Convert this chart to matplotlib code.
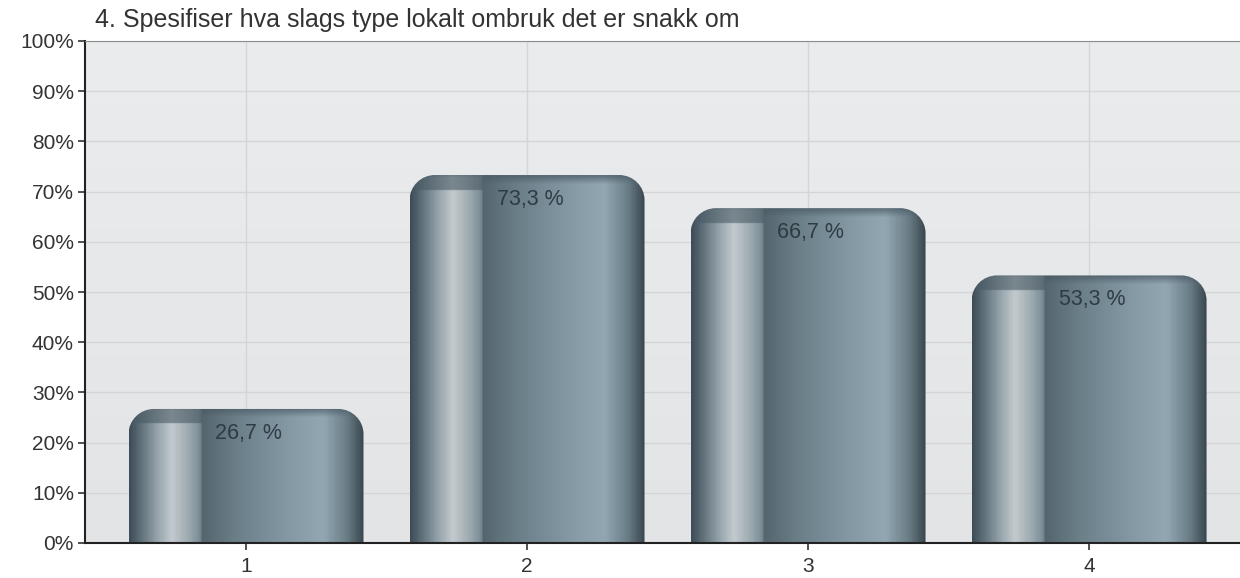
import numpy as np
import matplotlib
matplotlib.use('Agg')
import matplotlib.pyplot as plt
from matplotlib.colors import LinearSegmentedColormap, to_rgb
from matplotlib.path import Path
from matplotlib.patches import PathPatch

plt.rcParams['font.family'] = ['Liberation Sans', 'DejaVu Sans']

# --- Data ---
TITLE = "4. Spesifiser hva slags type lokalt ombruk det er snakk om"
categories = ['1', '2', '3', '4']
values = [26.7, 73.3, 66.7, 53.3]
value_labels = ['26,7 %', '73,3 %', '66,7 %', '53,3 %']
yticks = list(range(0, 101, 10))

BAR_W = 0.836
RX, RY = 0.09, 5.0  # corner radius in data units (x, y)

# horizontal "cylinder" shading of each bar
bar_cmap = LinearSegmentedColormap.from_list('bar', [
    (0.00, '#3e4d57'), (0.04, '#5a6b75'), (0.12, '#97a5ac'),
    (0.18, '#c2cace'), (0.25, '#9eabb1'), (0.30, '#7b8d96'),
    (0.31, '#55656e'), (0.45, '#6a7e88'), (0.70, '#869ba6'),
    (0.83, '#92a7b2'), (0.93, '#6a7d87'), (1.00, '#3a4850')])


def rounded_top_path(x0, x1, top):
    # bar outline with rounded upper corners, square bottom
    k = 0.5523
    verts = [(x0, 0), (x0, top - RY),
             (x0, top - RY + k * RY), (x0 + RX - k * RX, top), (x0 + RX, top),
             (x1 - RX, top),
             (x1 - RX + k * RX, top), (x1, top - RY + k * RY), (x1, top - RY),
             (x1, 0), (x0, 0)]
    codes = [Path.MOVETO, Path.LINETO,
             Path.CURVE4, Path.CURVE4, Path.CURVE4,
             Path.LINETO,
             Path.CURVE4, Path.CURVE4, Path.CURVE4,
             Path.LINETO, Path.CLOSEPOLY]
    return Path(verts, codes)


def bar_image(top):
    nx, ny = 300, int(top * 10) + 1
    fx = np.linspace(0, 1, nx)
    yy = np.linspace(top, 0, ny)
    img = np.ones((ny, nx, 4))
    img[:, :, :3] = bar_cmap(fx)[None, :, :3]
    d = (top - yy)[:, None]  # distance from top in %
    dark = np.array(to_rgb('#4a5a64'))
    # thin dark top rim
    w = np.clip(1 - d / 1.8, 0, 1) * 0.75
    # left highlight strip starts lower, dark block above it
    left = (fx > 0.03) & (fx < 0.31)
    w = np.where(left[None, :] & (d < 3.0), np.maximum(w, 0.6), w)
    w = w[:, :, None]
    img[:, :, :3] = img[:, :, :3] * (1 - w) + dark * w
    return img


fig = plt.figure(figsize=(12.4, 5.78), dpi=100)
ax = fig.add_axes([85 / 1240, 35 / 578, 1155 / 1240, 502 / 578])

x = np.arange(1, len(categories) + 1)
ax.set_xlim(0.427, 4.537)
ax.set_ylim(0, 100)

# background gradient
bg = LinearSegmentedColormap.from_list('bg', ['#e2e4e6', '#eaecee'])
ax.imshow(np.linspace(0, 1, 256)[:, None], cmap=bg, origin='lower',
          extent=(0.427, 4.537, 0, 100), aspect='auto', zorder=0)

for yv in yticks[1:]:
    ax.axhline(yv, color='#d3d5d7', lw=1, zorder=1)
for xv in x:
    ax.axvline(xv, color='#d3d5d7', lw=1, zorder=1)

for xv, v, lab in zip(x, values, value_labels):
    x0, x1 = xv - BAR_W / 2, xv + BAR_W / 2
    patch = PathPatch(rounded_top_path(x0, x1, v), facecolor='none',
                      edgecolor='none', zorder=3)
    ax.add_patch(patch)
    im = ax.imshow(bar_image(v), extent=(x0, x1, 0, v), aspect='auto',
                   zorder=2, interpolation='bilinear')
    im.set_clip_path(patch)
    ax.text(xv + 0.01, v - 4.8, lab, ha='center', va='center',
            fontsize=15.5, color='#2f3b43', zorder=4)

ax.set_xticks(x)
ax.set_xticklabels(categories)
ax.set_yticks(yticks)
ax.set_yticklabels([f'{t}%' for t in yticks])
ax.tick_params(axis='both', labelsize=15, colors='#333333', length=5,
               width=1.2, pad=5)
ax.tick_params(axis='y', pad=3)

ax.spines['left'].set_color('#222222')
ax.spines['left'].set_linewidth(1.5)
ax.spines['bottom'].set_color('#222222')
ax.spines['bottom'].set_linewidth(1.5)
ax.spines['top'].set_color('#8a8c8e')
ax.spines['right'].set_visible(False)

fig.text(95 / 1240, 1 - 20 / 578, TITLE, fontsize=18, color='#333333',
         ha='left', va='center')

fig.savefig('out.png', dpi=100, facecolor='white')
